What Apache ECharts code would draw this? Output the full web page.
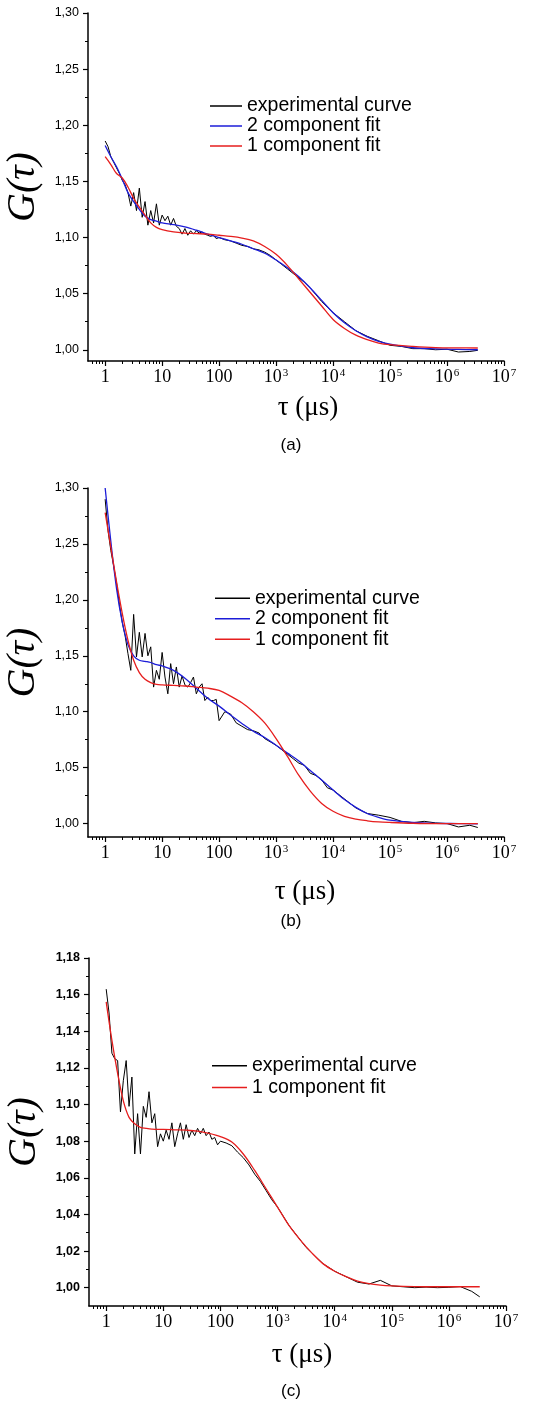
<!DOCTYPE html>
<html><head><meta charset="utf-8">
<script src="https://cdn.jsdelivr.net/npm/echarts@6/dist/echarts.min.js"></script>
<style>html,body{margin:0;padding:0;background:#fff}#chart{width:537px;height:1403px}</style>
</head><body><div id="chart"></div>
<script>
// ---------- data ----------
const tauExp = [1, 1.122, 1.259, 1.413, 1.585, 1.778, 1.995, 2.239, 2.512, 2.818, 3.162, 3.548, 3.981, 4.467, 5.012, 5.623, 6.310, 7.079, 7.943, 8.913,
  10, 11.22, 12.59, 14.13, 15.85, 17.78, 19.95, 22.39, 25.12, 28.18, 31.62, 35.48, 39.81, 44.67, 50.12, 56.23, 63.10, 70.79, 79.43, 89.13, 100,
  125.9, 158.5, 199.5, 251.2, 316.2, 398.1, 501.2, 631.0, 794.3, 1000, 1259, 1585, 1995, 2512, 3162, 3981, 5012, 6310, 7943, 10000,
  15850, 25120, 39810, 63100, 1e5, 1.585e5, 2.512e5, 3.981e5, 6.310e5, 1e6, 1.585e6, 2.512e6, 3.47e6];

const expA = [1.186, 1.181, 1.172, 1.167, 1.162, 1.157, 1.151, 1.147, 1.140, 1.128, 1.140, 1.124, 1.144, 1.118, 1.132, 1.111, 1.124, 1.113, 1.130, 1.111,
  1.120, 1.115, 1.119, 1.111, 1.117, 1.110, 1.108, 1.103, 1.108, 1.102, 1.106, 1.103, 1.106, 1.104, 1.105, 1.103, 1.102, 1.101, 1.102, 1.099, 1.100,
  1.098, 1.097, 1.095, 1.093, 1.092, 1.090, 1.089, 1.087, 1.084, 1.080, 1.076, 1.072, 1.068, 1.064, 1.060, 1.055, 1.049, 1.043, 1.038, 1.033,
  1.025, 1.017, 1.012, 1.008, 1.004, 1.003, 1.001, 1.001, 1.000, 1.0005, 0.998, 0.9985, 0.9995];

const expB = [1.290, 1.262, 1.244, 1.230, 1.215, 1.196, 1.180, 1.168, 1.152, 1.137, 1.187, 1.149, 1.171, 1.149, 1.170, 1.150, 1.158, 1.122, 1.137, 1.129,
  1.153, 1.131, 1.116, 1.143, 1.125, 1.140, 1.122, 1.132, 1.124, 1.122, 1.126, 1.131, 1.116, 1.122, 1.125, 1.110, 1.113, 1.110, 1.110, 1.111, 1.092,
  1.100, 1.098, 1.090, 1.087, 1.084, 1.083, 1.081, 1.076, 1.073, 1.070, 1.066, 1.062, 1.058, 1.054, 1.052, 1.045, 1.043, 1.039, 1.032, 1.030,
  1.022, 1.014, 1.009, 1.0075, 1.0055, 1.002, 1.0008, 1.002, 1.0006, 1.000, 0.997, 0.9985, 0.9965];

const expC = [1.163, 1.150, 1.128, 1.125, 1.124, 1.096, 1.113, 1.124, 1.099, 1.115, 1.073, 1.095, 1.073, 1.099, 1.093, 1.107, 1.090, 1.095, 1.077, 1.084,
  1.080, 1.086, 1.081, 1.090, 1.077, 1.084, 1.090, 1.081, 1.089, 1.082, 1.086, 1.083, 1.087, 1.084, 1.087, 1.083, 1.085, 1.081, 1.082, 1.078, 1.080,
  1.079, 1.0775, 1.074, 1.071, 1.067, 1.062, 1.058, 1.053, 1.048, 1.044, 1.039, 1.034, 1.030, 1.026, 1.022, 1.019, 1.016, 1.013, 1.011, 1.009,
  1.006, 1.003, 1.002, 1.004, 1.001, 1.0005, 1.000, 1.0003, 1.000, 1.0002, 1.0006, 0.998, 0.995];

const tauFit = [1, 1.259, 1.585, 1.995, 2.512, 3.162, 3.981, 5.012, 6.310, 7.943, 10, 15.85, 25.12, 39.81, 63.10, 100, 158.5, 251.2, 398.1, 631.0,
  1000, 1585, 2512, 3981, 6310, 10000, 15850, 25120, 39810, 63100, 1e5, 2.512e5, 6.310e5, 1.585e6, 3.47e6];

const fit2A = [1.182, 1.172, 1.163, 1.152, 1.140, 1.132, 1.125, 1.119, 1.116, 1.1145, 1.113, 1.1115, 1.1095, 1.1065, 1.103, 1.100, 1.097, 1.094, 1.090, 1.086,
  1.080, 1.073, 1.065, 1.055, 1.044, 1.033, 1.024, 1.017, 1.0115, 1.0075, 1.005, 1.0018, 1.0008, 1.0003, 1.000];
const fit1A = [1.172, 1.165, 1.157, 1.153, 1.145, 1.135, 1.127, 1.120, 1.113, 1.109, 1.107, 1.105, 1.104, 1.1035, 1.103, 1.102, 1.101, 1.0995, 1.097, 1.092,
  1.085, 1.075, 1.063, 1.051, 1.039, 1.027, 1.019, 1.013, 1.009, 1.006, 1.0045, 1.003, 1.002, 1.0017, 1.0016];
const fit2B = [1.300, 1.252, 1.210, 1.180, 1.160, 1.150, 1.146, 1.145, 1.144, 1.142, 1.141, 1.137, 1.130, 1.121, 1.112, 1.105, 1.097, 1.0895, 1.0825, 1.077,
  1.070, 1.063, 1.056, 1.0475, 1.039, 1.030, 1.0215, 1.0145, 1.009, 1.0055, 1.003, 1.001, 1.0002, 1.000, 0.9998];
const fit1B = [1.278, 1.247, 1.216, 1.188, 1.164, 1.146, 1.135, 1.129, 1.126, 1.1245, 1.124, 1.1235, 1.123, 1.122, 1.121, 1.119, 1.114, 1.108, 1.100, 1.090,
  1.076, 1.060, 1.043, 1.029, 1.018, 1.011, 1.0065, 1.004, 1.0025, 1.0015, 1.001, 1.0003, 1.000, 1.000, 1.000];
const fit1C = [1.156, 1.135, 1.117, 1.102, 1.093, 1.0895, 1.0875, 1.087, 1.0866, 1.0864, 1.0864, 1.0862, 1.086, 1.0855, 1.0843, 1.0825, 1.0795, 1.073, 1.064, 1.054,
  1.044, 1.034, 1.026, 1.019, 1.013, 1.009, 1.006, 1.0036, 1.0022, 1.0014, 1.001, 1.0006, 1.0005, 1.0005, 1.0005];

const xTickValues = [1, 10, 100, 1e3, 1e4, 1e5, 1e6, 1e7];
const xTickLabels = ['1', '10', '100', '10^3', '10^4', '10^5', '10^6', '10^7'];
const yTicksAB = [1.00, 1.05, 1.10, 1.15, 1.20, 1.25, 1.30];
const yLabelsAB = ['1,00', '1,05', '1,10', '1,15', '1,20', '1,25', '1,30'];
const yMinorAB = [1.025, 1.075, 1.125, 1.175, 1.225, 1.275];
const yTicksC = [1.00, 1.02, 1.04, 1.06, 1.08, 1.10, 1.12, 1.14, 1.16, 1.18];
const yLabelsC = ['1,00', '1,02', '1,04', '1,06', '1,08', '1,10', '1,12', '1,14', '1,16', '1,18'];
const yMinorC = [1.01, 1.03, 1.05, 1.07, 1.09, 1.11, 1.13, 1.15, 1.17];
const seriesNames = ['experimental curve', '2 component fit', '1 component fit'];
const captions = ['(a)', '(b)', '(c)'];

// ---------- layout ----------
const BLUE = '#1c1cd8', RED = '#e61e1e';
const xMinor = [];
[0.1, 1, 10, 100, 1e3, 1e4, 1e5, 1e6].forEach(d => { for (let k = 2; k <= 9; k++) { const v = +(d * k).toPrecision(3); if (v >= 0.55) xMinor.push(v); } });

const panels = [
  { grid: { left: 88, top: 13, width: 416, height: 348 }, ymin: 0.99, ymax: 1.30, yt: yTicksAB, yl: yLabelsAB, ym: yMinorAB, bold: false,
    exp: expA, fits: [[seriesNames[1], fit2A, BLUE], [seriesNames[2], fit1A, RED]],
    leg: { left: 210, top: 96, w: 32, pitch: 20 }, xTitle: [308, 408], cap: [291, 445] },
  { grid: { left: 88, top: 488, width: 416, height: 349 }, ymin: 0.988, ymax: 1.30, yt: yTicksAB, yl: yLabelsAB, ym: yMinorAB, bold: false,
    exp: expB, fits: [[seriesNames[1], fit2B, BLUE], [seriesNames[2], fit1B, RED]],
    leg: { left: 215, top: 588, w: 35, pitch: 20.5 }, xTitle: [305, 892], cap: [291, 921] },
  { grid: { left: 89, top: 958, width: 417, height: 348 }, ymin: 0.99, ymax: 1.18, yt: yTicksC, yl: yLabelsC, ym: yMinorC, bold: true,
    exp: expC, fits: [[seriesNames[2], fit1C, RED]],
    leg: { left: 212, top: 1055, w: 35, pitch: 21.7 }, xTitle: [302, 1355], cap: [291, 1391] }
];

const option = { animation: false, backgroundColor: '#fff', grid: [], xAxis: [], yAxis: [], series: [], legend: [], graphic: [] };

panels.forEach((p, i) => {
  option.grid.push(Object.assign({ outerBoundsMode: 'none', containLabel: false }, p.grid));
  const gi = i;
  option.xAxis.push({
    type: 'log', gridIndex: gi, min: 0.5, max: 1e7, logBase: 10,
    axisLine: { show: true, onZero: false, lineStyle: { color: '#000', width: 1.5 } },
    axisTick: { show: true, inside: false, length: 5, customValues: xTickValues, lineStyle: { color: '#000', width: 1.2 } },
    axisLabel: { show: true, margin: 7, customValues: xTickValues, hideOverlap: false, color: '#000',
      formatter: v => { const k = xTickValues.findIndex(t => Math.abs(Math.log10(t) - Math.log10(v)) < 1e-6); const s = k >= 0 ? xTickLabels[k] : ''; const parts = s.split('^'); return parts.length > 1 ? '{b|' + parts[0] + '}{s|' + parts[1] + '}' : '{b|' + s + '}'; },
      rich: { b: { fontFamily: '"Liberation Serif", "Times New Roman", serif', fontSize: 18, color: '#000' },
              s: { fontFamily: '"Liberation Serif", "Times New Roman", serif', fontSize: 11, color: '#000', verticalAlign: 'top', padding: [0, 0, 0, 1] } } },
    splitLine: { show: false }, minorTick: { show: false }
  });
  option.xAxis.push({
    type: 'log', gridIndex: gi, min: 0.5, max: 1e7, logBase: 10, position: 'bottom',
    axisLine: { show: false }, axisLabel: { show: false }, splitLine: { show: false },
    axisTick: { show: true, length: 3, customValues: xMinor, lineStyle: { color: '#000', width: 1 } }
  });
  option.yAxis.push({
    type: 'value', gridIndex: gi, min: p.ymin, max: p.ymax, position: 'left',
    axisLine: { show: true, onZero: false, lineStyle: { color: '#000', width: 1.5 } },
    axisTick: { show: true, length: 5, customValues: p.yt, lineStyle: { color: '#000', width: 1.2 } },
    axisLabel: { show: true, margin: 9, customValues: p.yt, color: '#000', fontFamily: '"Liberation Sans", Arial, sans-serif', fontSize: 12.5, fontWeight: p.bold ? 'bold' : 'normal',
      formatter: v => { const k = p.yt.findIndex(t => Math.abs(t - v) < 1e-6); return k >= 0 ? p.yl[k] : ''; } },
    splitLine: { show: false },
    name: 'G(τ)', nameLocation: 'middle', nameGap: 40, nameRotate: 90,
    nameTextStyle: { fontFamily: '"Liberation Serif", "Times New Roman", serif', fontStyle: 'italic', fontSize: 40, color: '#000' }
  });
  option.yAxis.push({
    type: 'value', gridIndex: gi, min: p.ymin, max: p.ymax, position: 'left', offset: 0,
    axisLine: { show: false }, axisLabel: { show: false }, splitLine: { show: false },
    axisTick: { show: true, length: 3, customValues: p.ym, lineStyle: { color: '#000', width: 1 } }
  });
  const xi = 2 * i, yi = 2 * i;
  option.series.push({
    name: seriesNames[0], type: 'line', xAxisIndex: xi, yAxisIndex: yi, symbol: 'none', silent: true,
    data: tauExp.map((t, k) => [t, p.exp[k]]), lineStyle: { color: '#000', width: 1 }, itemStyle: { color: '#000' }
  });
  p.fits.forEach(f => {
    option.series.push({
      name: f[0], type: 'line', xAxisIndex: xi, yAxisIndex: yi, symbol: 'none', silent: true, smooth: 0.35,
      data: tauFit.map((t, k) => [t, f[1][k]]), lineStyle: { color: f[2], width: 1.3 }, itemStyle: { color: f[2] }
    });
  });
  option.legend.push({
    orient: 'vertical', left: p.leg.left, top: p.leg.top, padding: 0, itemGap: 0,
    itemWidth: p.leg.w, itemHeight: 1.5, icon: 'rect', selectedMode: false,
    data: [seriesNames[0]].concat(p.fits.map(f => f[0])),
    textStyle: { fontFamily: '"Liberation Sans", Arial, sans-serif', fontSize: 19.5, color: '#000', lineHeight: p.leg.pitch, padding: [0, 0, 0, 0] }
  });
  option.graphic.push({
    type: 'text', x: p.xTitle[0], y: p.xTitle[1], silent: true,
    style: { text: 'τ (μs)', font: '27px "Liberation Serif", "Times New Roman", serif', fill: '#000', align: 'center', verticalAlign: 'middle', textAlign: 'center', textVerticalAlign: 'middle' }
  });
  option.graphic.push({
    type: 'text', x: p.cap[0], y: p.cap[1], silent: true,
    style: { text: captions[i], font: '17px "Liberation Sans", Arial, sans-serif', fill: '#000', align: 'center', verticalAlign: 'middle', textAlign: 'center', textVerticalAlign: 'middle' }
  });
});

const chart = echarts.init(document.getElementById('chart'), null, { renderer: 'canvas' });
chart.setOption(option);
</script></body></html>
